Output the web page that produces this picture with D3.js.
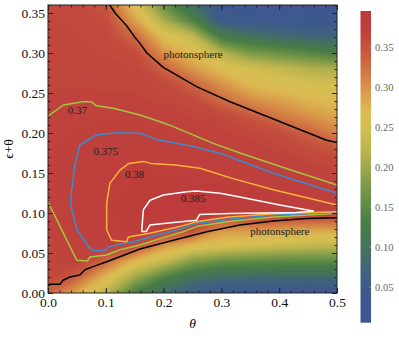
<!DOCTYPE html>
<html>
<head>
<meta charset="utf-8">
<script src="https://cdn.jsdelivr.net/npm/d3@7"></script>
<style>
  body { margin: 0; background: #fff; }
  text { font-family: "Liberation Serif", "Times New Roman", Times, "DejaVu Serif", serif; }
</style>
</head>
<body>
<div id="chart"></div>
<script>
// grid of the density plot
const thetaGrid = [0, 0.05, 0.1, 0.15, 0.2, 0.25, 0.3, 0.35, 0.4, 0.45, 0.5];
const yGrid = [0, 0.02, 0.04, 0.06, 0.08, 0.1, 0.12, 0.14, 0.16, 0.18, 0.2, 0.22, 0.24, 0.26, 0.28, 0.3, 0.32, 0.34, 0.36];

// one column per theta, values from eps+theta = 0 upwards
const fieldCols = [
  [0.33, 0.362, 0.365, 0.366, 0.367, 0.369, 0.371, 0.372, 0.372, 0.372, 0.371, 0.370, 0.368, 0.367, 0.366, 0.365, 0.364, 0.363, 0.362],
  [0.28, 0.335, 0.37, 0.372, 0.375, 0.376, 0.377, 0.377, 0.377, 0.376, 0.373, 0.371, 0.369, 0.367, 0.365, 0.364, 0.363, 0.362, 0.36],
  [0.22, 0.27, 0.33, 0.378, 0.38, 0.381, 0.381, 0.38, 0.378, 0.377, 0.375, 0.372, 0.369, 0.366, 0.364, 0.362, 0.36, 0.355, 0.345],
  [0.13, 0.20, 0.27, 0.36, 0.383, 0.385, 0.384, 0.382, 0.38, 0.377, 0.375, 0.372, 0.369, 0.366, 0.363, 0.355, 0.33, 0.29, 0.255],
  [0.08, 0.14, 0.23, 0.30, 0.38, 0.386, 0.386, 0.383, 0.38, 0.377, 0.374, 0.37, 0.366, 0.36, 0.335, 0.30, 0.265, 0.21, 0.16],
  [0.05, 0.10, 0.18, 0.27, 0.36, 0.386, 0.386, 0.382, 0.379, 0.375, 0.371, 0.367, 0.358, 0.335, 0.295, 0.265, 0.23, 0.14, 0.09],
  [0.04, 0.085, 0.16, 0.255, 0.30, 0.385, 0.386, 0.381, 0.377, 0.373, 0.369, 0.362, 0.33, 0.30, 0.265, 0.215, 0.125, 0.05, 0.04],
  [0.038, 0.08, 0.155, 0.245, 0.30, 0.383, 0.384, 0.379, 0.375, 0.371, 0.364, 0.345, 0.305, 0.27, 0.245, 0.175, 0.10, 0.045, 0.035],
  [0.035, 0.08, 0.15, 0.235, 0.295, 0.38, 0.382, 0.377, 0.373, 0.366, 0.355, 0.32, 0.29, 0.26, 0.23, 0.16, 0.085, 0.04, 0.033],
  [0.035, 0.08, 0.15, 0.23, 0.29, 0.376, 0.379, 0.374, 0.368, 0.355, 0.335, 0.30, 0.275, 0.25, 0.215, 0.145, 0.075, 0.04, 0.032],
  [0.035, 0.08, 0.15, 0.225, 0.29, 0.372, 0.374, 0.37, 0.362, 0.345, 0.31, 0.285, 0.265, 0.245, 0.21, 0.13, 0.07, 0.04, 0.03]
];

// contour lines [theta, eps+theta]
const contour370Upper = [[0, 0.221], [0.0265, 0.235], [0.061, 0.239], [0.075, 0.239], [0.084, 0.234], [0.113, 0.231], [0.159, 0.2225], [0.194, 0.214], [0.217, 0.208], [0.286, 0.187], [0.332, 0.175], [0.419, 0.154], [0.5, 0.135]];
const contour370Lower = [[0, 0.114], [0.025, 0.077], [0.0497, 0.041], [0.068, 0.040], [0.0727, 0.045], [0.1015, 0.0475], [0.1246, 0.054], [0.159, 0.06], [0.194, 0.068], [0.234, 0.0766], [0.257, 0.083], [0.309, 0.089], [0.39, 0.095], [0.5, 0.0996]];
const contour375 = [[0.5, 0.1246], [0.39, 0.1496], [0.2976, 0.1746], [0.2514, 0.183], [0.188, 0.192], [0.159, 0.1996], [0.119, 0.2004], [0.084, 0.1975], [0.055, 0.185], [0.047, 0.162], [0.041, 0.129], [0.039, 0.112], [0.0497, 0.079], [0.0727, 0.056], [0.078, 0.053], [0.0986, 0.053], [0.1015, 0.0555], [0.107, 0.058], [0.1476, 0.064], [0.188, 0.0725], [0.234, 0.081], [0.257, 0.087], [0.309, 0.092], [0.39, 0.0975], [0.5, 0.1009]];
const contour380 = [[0.5, 0.11], [0.39, 0.129], [0.32, 0.143], [0.263, 0.156], [0.22, 0.160], [0.178, 0.162], [0.165, 0.1645], [0.14, 0.162], [0.125, 0.154], [0.107, 0.137], [0.1015, 0.112], [0.1015, 0.079], [0.11, 0.066], [0.136, 0.064], [0.139, 0.07], [0.176, 0.0746], [0.228, 0.083], [0.257, 0.089], [0.309, 0.0946], [0.39, 0.099], [0.5, 0.1016]];
const contour385 = [[0.162, 0.077], [0.165, 0.104], [0.1765, 0.116], [0.1995, 0.1225], [0.24, 0.1266], [0.257, 0.1275], [0.2976, 0.1246], [0.332, 0.12], [0.401, 0.11], [0.459, 0.1025], [0.43, 0.1005], [0.315, 0.0995], [0.262, 0.098], [0.257, 0.091], [0.2, 0.087], [0.1765, 0.085], [0.17, 0.077], [0.162, 0.077]];
const photoTop = [[0.107, 0.36], [0.116, 0.35], [0.136, 0.334], [0.15, 0.32], [0.159, 0.312], [0.171, 0.300], [0.1995, 0.282], [0.257, 0.258], [0.315, 0.239], [0.3725, 0.2225], [0.43, 0.206], [0.482, 0.191], [0.5, 0.188]];
const photoBottom = [[0, 0.01], [0.0035, 0.011], [0.021, 0.011], [0.026, 0.016], [0.038, 0.020], [0.055, 0.0225], [0.064, 0.029], [0.078, 0.033], [0.1015, 0.039], [0.159, 0.055], [0.217, 0.066], [0.2746, 0.0766], [0.332, 0.085], [0.39, 0.090], [0.4476, 0.093], [0.5, 0.094]];

const labelTexts = ["0.37", "0.375", "0.38", "0.385", "photonsphere", "photonsphere"];
const labelAt = [[0.051, 0.229], [0.100, 0.178], [0.150, 0.149], [0.251, 0.119], [0.251, 0.299], [0.401, 0.078]];

const xTicks = [0, 0.1, 0.2, 0.3, 0.4, 0.5];
const yTicks = [0, 0.05, 0.1, 0.15, 0.2, 0.25, 0.3, 0.35];
const barTicks = [0.05, 0.1, 0.15, 0.2, 0.25, 0.3, 0.35];

// DarkRainbow-like colour map
const colorStops = [0.005, 0.04, 0.07, 0.10, 0.13, 0.16, 0.19, 0.22, 0.25, 0.27, 0.29, 0.31, 0.33, 0.35, 0.37, 0.395];
const colorList = ["#3c5597", "#3e5890", "#41637c", "#45745a", "#4a7d47", "#679047", "#91a24b", "#bab44f", "#d6bf53", "#dcb952", "#da9f4c", "#d48346", "#cc6942", "#c5513e", "#bf423c", "#bc383a"];
const color = d3.scaleLinear().domain(colorStops).range(colorList).clamp(true);

const width = 399, height = 344;
const x = d3.scaleLinear().domain([0, 0.5]).range([48, 337]);
const y = d3.scaleLinear().domain([0, 0.36]).range([293, 5]);

const svg = d3.select("#chart").append("svg")
  .attr("width", width).attr("height", height);

svg.append("clipPath").attr("id", "plotclip")
  .append("rect").attr("x", x(0)).attr("y", y(0.36))
  .attr("width", x(0.5) - x(0)).attr("height", y(0) - y(0.36));

// density: filled bands from d3.contours on the grid
const nx = thetaGrid.length, ny = yGrid.length;
const dT = thetaGrid[1] - thetaGrid[0], dY = yGrid[1] - yGrid[0];
const values = [];
for (let j = 0; j < ny; j++) for (let i = 0; i < nx; i++) values.push(fieldCols[i][j]);

const step = 0.0025;
const levels = d3.range(0, 0.396, step);
const bands = d3.contours().size([nx, ny]).thresholds(levels)(values);
const gridPath = d3.geoPath(d3.geoTransform({
  point: function (cx, cy) {
    this.stream.point(x(thetaGrid[0] + (cx - 0.5) * dT), y(yGrid[0] + (cy - 0.5) * dY));
  }
}));

const plot = svg.append("g").attr("clip-path", "url(#plotclip)");
plot.selectAll("path.band").data(bands).join("path")
  .attr("class", "band")
  .attr("d", gridPath)
  .attr("fill", function (d) { return color(d.value + step / 2); })
  .attr("stroke", function (d) { return color(d.value + step / 2); })
  .attr("stroke-width", 0.6);

const line = d3.line().x(function (d) { return x(d[0]); }).y(function (d) { return y(d[1]); });
const lines = [
  [contour370Upper, "#a2c63c"], [contour370Lower, "#a2c63c"],
  [contour375, "#3a8bd0"], [contour380, "#fcb437"], [contour385, "#ffffff"],
  [photoTop, "#000"], [photoBottom, "#000"]
];
lines.forEach(function (l) {
  plot.append("path").datum(l[0])
    .attr("fill", "none").attr("stroke", l[1])
    .attr("stroke-width", 1.5).attr("stroke-linejoin", "round")
    .attr("d", line);
});

labelTexts.forEach(function (t, i) {
  svg.append("text")
    .attr("x", x(labelAt[i][0])).attr("y", y(labelAt[i][1]))
    .attr("text-anchor", "middle").attr("dominant-baseline", "central")
    .style("font-size", "11px").style("fill", "#222")
    .text(t);
});

// frame and ticks (inward, all four sides)
function styleAxis(g) {
  g.attr("font-family", null);
  g.select(".domain").remove();
  g.selectAll("line").attr("stroke", "#222");
  g.selectAll("text").style("font-size", "13.5px").style("fill", "#111");
}
const xMinor = d3.range(0, 0.5001, 0.02);
const yMinor = d3.range(0, 0.3601, 0.01);

svg.append("g").attr("transform", "translate(0," + y(0) + ")")
  .call(d3.axisBottom(x).tickValues(xMinor).tickSize(-2.5).tickFormat("")).call(styleAxis);
svg.append("g").attr("transform", "translate(0," + y(0) + ")")
  .call(d3.axisBottom(x).tickValues(xTicks).tickSize(-5).tickPadding(4).tickFormat(d3.format(".1f"))).call(styleAxis);
svg.append("g").attr("transform", "translate(0," + y(0.36) + ")")
  .call(d3.axisTop(x).tickValues(xMinor).tickSize(-2.5).tickFormat("")).call(styleAxis);
svg.append("g").attr("transform", "translate(0," + y(0.36) + ")")
  .call(d3.axisTop(x).tickValues(xTicks).tickSize(-5).tickFormat("")).call(styleAxis);

svg.append("g").attr("transform", "translate(" + x(0) + ",0)")
  .call(d3.axisLeft(y).tickValues(yMinor).tickSize(-2.5).tickFormat("")).call(styleAxis);
svg.append("g").attr("transform", "translate(" + x(0) + ",0)")
  .call(d3.axisLeft(y).tickValues(yTicks).tickSize(-5).tickPadding(3).tickFormat(d3.format(".2f"))).call(styleAxis);
svg.append("g").attr("transform", "translate(" + x(0.5) + ",0)")
  .call(d3.axisRight(y).tickValues(yMinor).tickSize(-2.5).tickFormat("")).call(styleAxis);
svg.append("g").attr("transform", "translate(" + x(0.5) + ",0)")
  .call(d3.axisRight(y).tickValues(yTicks).tickSize(-5).tickFormat("")).call(styleAxis);

svg.append("rect")
  .attr("x", x(0)).attr("y", y(0.36))
  .attr("width", x(0.5) - x(0)).attr("height", y(0) - y(0.36))
  .attr("fill", "none").attr("stroke", "#222").attr("stroke-width", 1);

svg.append("text")
  .attr("x", (x(0) + x(0.5)) / 2).attr("y", 328)
  .attr("text-anchor", "middle")
  .style("font-size", "13.5px").style("font-style", "italic")
  .text("θ");
svg.append("text")
  .attr("transform", "translate(13," + ((y(0) + y(0.36)) / 2) + ") rotate(-90)")
  .attr("text-anchor", "middle")
  .style("font-size", "13.5px")
  .text("ϵ+θ");

// colour bar
const bar = d3.scaleLinear().domain([0.005, 0.3946]).range([322.7, 11]);
const grad = svg.append("defs").append("linearGradient")
  .attr("id", "bargrad").attr("x1", 0).attr("x2", 0).attr("y1", 1).attr("y2", 0);
colorStops.forEach(function (s, i) {
  grad.append("stop")
    .attr("offset", (s - 0.005) / (0.3946 - 0.005))
    .attr("stop-color", colorList[i]);
});
svg.append("rect")
  .attr("x", 360.5).attr("y", bar(0.3946))
  .attr("width", 10.5).attr("height", bar(0.005) - bar(0.3946))
  .attr("fill", "url(#bargrad)");
const barAxis = svg.append("g").attr("transform", "translate(371,0)")
  .call(d3.axisRight(bar).tickValues(barTicks).tickSize(-2).tickPadding(4).tickFormat(d3.format(".2f")));
barAxis.attr("font-family", null);
barAxis.select(".domain").remove();
barAxis.selectAll("line").attr("stroke", "#999").attr("stroke-opacity", 0.6);
barAxis.selectAll("text").style("font-size", "10.5px").style("fill", "#666");
</script>
</body>
</html>
